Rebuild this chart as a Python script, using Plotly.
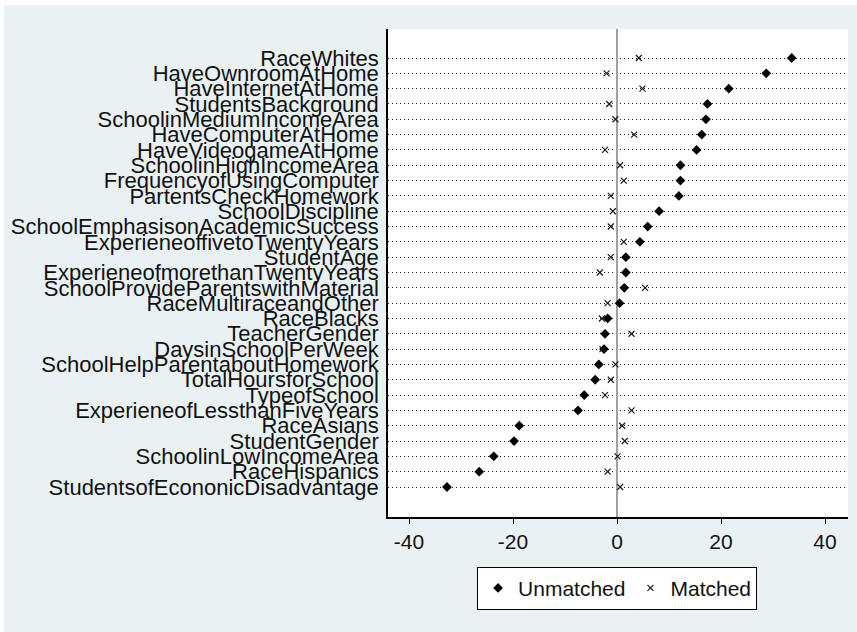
import plotly.graph_objects as go

categories = [
    "RaceWhites", "HaveOwnroomAtHome", "HaveInternetAtHome", "StudentsBackground",
    "SchoolinMediumIncomeArea", "HaveComputerAtHome", "HaveVideogameAtHome",
    "SchoolinHighIncomeArea", "FrequencyofUsingComputer", "PartentsCheckHomework",
    "SchoolDiscipline", "SchoolEmphasisonAcademicSuccess", "ExperieneoffivetoTwentyYears",
    "StudentAge", "ExperieneofmorethanTwentyYears", "SchoolProvideParentswithMaterial",
    "RaceMultiraceandOther", "RaceBlacks", "TeacherGender", "DaysinSchoolPerWeek",
    "SchoolHelpParentaboutHomework", "TotalHoursforSchool", "TypeofSchool",
    "ExperieneofLessthanFiveYears", "RaceAsians", "StudentGender",
    "SchoolinLowIncomeArea", "RaceHispanics", "StudentsofEcononicDisadvantage",
]
unmatched = [33.6, 28.7, 21.5, 17.4, 17.1, 16.3, 15.3, 12.2, 12.2, 11.9,
             8.1, 5.9, 4.4, 1.7, 1.7, 1.4, 0.5, -1.8, -2.3, -2.5,
             -3.5, -4.2, -6.3, -7.5, -18.8, -19.8, -23.7, -26.5, -32.7]
matched = [4.2, -2.0, 4.9, -1.5, -0.3, 3.3, -2.3, 0.6, 1.3, -1.2,
           -0.8, -1.2, 1.3, -1.2, -3.3, 5.4, -1.8, -2.9, 2.8, -2.8,
           -0.3, -1.2, -2.3, 2.8, 1.0, 1.5, 0.1, -1.8, 0.6]
x_ticks = [-40, -20, 0, 20, 40]

FONT = "Liberation Sans, Arial, sans-serif"
TXT = "#111111"
BG = "#e9f1f3"

fig = go.Figure()
fig.add_trace(go.Scatter(
    x=unmatched, y=categories, mode="markers", name="Unmatched",
    marker=dict(symbol="diamond", size=7.5, color="black", line=dict(width=0)),
))
fig.add_trace(go.Scatter(
    x=matched, y=categories, mode="markers", name="Matched",
    marker=dict(symbol="x-thin-open", size=6, color="#1a1a1a",
                line=dict(width=1.2, color="#1a1a1a")),
))

W, H = 857, 632
L, R, T, B = 388, 848, 29, 517
n = len(categories)

fig.update_layout(
    width=W, height=H,
    margin=dict(l=L, r=W - R, t=T, b=H - B, pad=0),
    paper_bgcolor=BG, plot_bgcolor="white",
    font=dict(family=FONT, size=22, color=TXT),
    showlegend=True,
    legend=dict(
        orientation="h", x=0.498, xanchor="center", y=-0.102, yanchor="top",
        bgcolor="white", bordercolor="black", borderwidth=1,
        font=dict(size=21, color=TXT), itemsizing="trace",
    ),
    xaxis=dict(
        range=[(L - 617) / 5.2, (R - 617) / 5.2],
        tickvals=x_ticks, ticktext=[str(v) for v in x_ticks],
        ticks="outside", ticklen=5, tickwidth=1.3, tickcolor="black",
        showline=True, linecolor="black", linewidth=1.5,
        showgrid=False, zeroline=True, zerolinecolor="#a0a0a0", zerolinewidth=1.5,
        tickfont=dict(size=21, color=TXT),
    ),
    yaxis=dict(
        type="category",
        categoryorder="array", categoryarray=categories,
        tickmode="array", tickvals=categories, ticktext=categories,
        range=[n - 1 + 30 / 15.32, -29 / 15.32],
        showline=True, linecolor="black", linewidth=1.5,
        ticks="", showgrid=True, gridcolor="#222222", gridwidth=1,
        griddash="1px,3px",
        tickfont=dict(size=22, color=TXT),
        ticklabelstandoff=3,
    ),
    shapes=[
        dict(type="rect", xref="paper", yref="paper", layer="below",
             x0=-1, x1=2, y0=(B - 5) / (B - T), y1=(B + 5) / (B - T),
             fillcolor="white", line=dict(width=0)),
        dict(type="rect", xref="paper", yref="paper", layer="below",
             x0=-(L + 10) / (R - L), x1=-(L - 4) / (R - L), y0=-1, y1=2,
             fillcolor="white", line=dict(width=0)),
    ],
)

fig.write_html("out.html")
